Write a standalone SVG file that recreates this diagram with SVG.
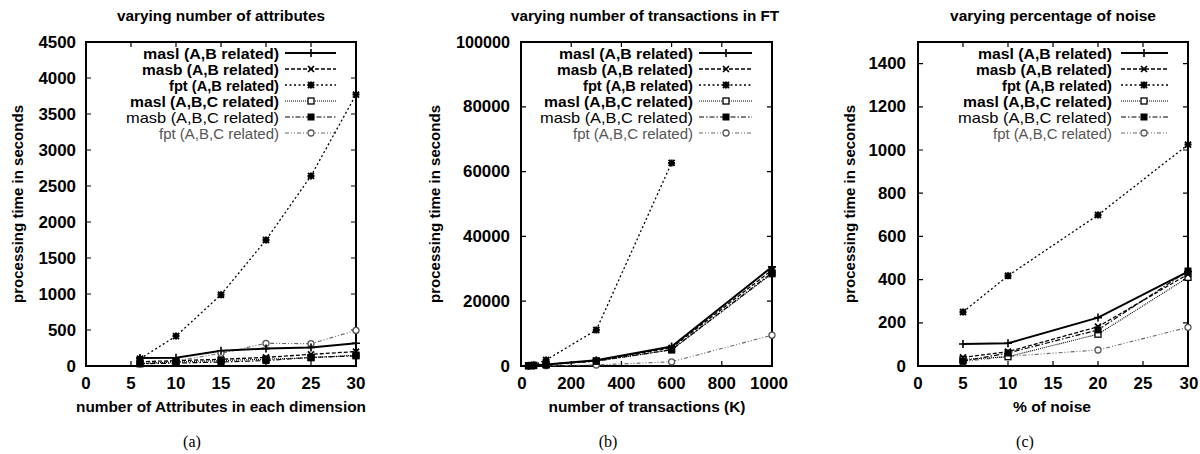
<svg xmlns="http://www.w3.org/2000/svg" xmlns:xlink="http://www.w3.org/1999/xlink" width="1200" height="454" viewBox="0 0 1200 454">
<style>
text{font-family:"Liberation Sans",Arial,sans-serif;fill:#000}
.b{font-weight:bold;font-size:15px}
.tk{font-weight:bold;font-size:16px}
.r{font-size:15px}
.g{font-size:14px;fill:#555}
.cap{font-family:"Liberation Serif","Times New Roman",serif;font-size:16px}
.box{fill:none;stroke:#000;stroke-width:2}
.tic{fill:none;stroke:#000;stroke-width:1.2}
.l1{fill:none;stroke:#000;stroke-width:2}
.l2{fill:none;stroke:#000;stroke-width:1.3;stroke-dasharray:4 2}
.l3{fill:none;stroke:#000;stroke-width:1.3;stroke-dasharray:2 2.5}
.l4{fill:none;stroke:#000;stroke-width:1.1;stroke-dasharray:1 1}
.l5{fill:none;stroke:#000;stroke-width:1.2;stroke-dasharray:5 2 1.5 2}
.l6{fill:none;stroke:#666;stroke-width:1.1;stroke-dasharray:4 2 1 2 1 2}
</style>
<defs>
<path id="m1" d="M-4,0H4M0,-4V4" fill="none" stroke="#000" stroke-width="1.6"/>
<path id="m2" d="M-3,-3L3,3M-3,3L3,-3" fill="none" stroke="#000" stroke-width="1.7"/>
<path id="m3" d="M-3.5,0H3.5M0,-3.5V3.5M-3,-3L3,3M-3,3L3,-3" fill="none" stroke="#000" stroke-width="2"/>
<rect id="m4" x="-3" y="-3" width="6" height="6" fill="#fff" stroke="#000" stroke-width="1.3"/>
<rect id="m5" x="-3.5" y="-3.5" width="7" height="7" fill="#000"/>
<circle id="m6" r="3" fill="#fff" stroke="#555" stroke-width="1.3"/>
</defs>
<rect width="1200" height="454" fill="#fff"/>

<!-- ================= Panel (a) ================= -->
<g id="panel-a">
<text class="b" x="221" y="21" text-anchor="middle" textLength="208" lengthAdjust="spacingAndGlyphs">varying number of attributes</text>
<text class="b" transform="translate(22.5,204) rotate(-90)" text-anchor="middle" textLength="198" lengthAdjust="spacingAndGlyphs">processing time in seconds</text>
<text class="b" x="221" y="412" text-anchor="middle" textLength="290" lengthAdjust="spacingAndGlyphs">number of Attributes in each dimension</text>
<text class="cap" x="192" y="447" text-anchor="middle">(a)</text>
<rect class="box" x="86" y="42" width="270" height="324"/>
<path class="tic" d="M131,366v-5M176,366v-5M221,366v-5M266,366v-5M311,366v-5M131,42v5M176,42v5M221,42v5M266,42v5M311,42v5M86,330h5M86,294h5M86,258h5M86,222h5M86,186h5M86,150h5M86,114h5M86,78h5M356,330h-5M356,294h-5M356,258h-5M356,222h-5M356,186h-5M356,150h-5M356,114h-5M356,78h-5"/>
<g text-anchor="end">
<text class="tk" x="76" y="371.5" textLength="9.4" lengthAdjust="spacingAndGlyphs">0</text>
<text class="tk" x="76" y="335.5" textLength="28" lengthAdjust="spacingAndGlyphs">500</text>
<text class="tk" x="76" y="299.5" textLength="37.6" lengthAdjust="spacingAndGlyphs">1000</text>
<text class="tk" x="76" y="263.5" textLength="37.6" lengthAdjust="spacingAndGlyphs">1500</text>
<text class="tk" x="76" y="227.5" textLength="37.6" lengthAdjust="spacingAndGlyphs">2000</text>
<text class="tk" x="76" y="191.5" textLength="37.6" lengthAdjust="spacingAndGlyphs">2500</text>
<text class="tk" x="76" y="155.5" textLength="37.6" lengthAdjust="spacingAndGlyphs">3000</text>
<text class="tk" x="76" y="119.5" textLength="37.6" lengthAdjust="spacingAndGlyphs">3500</text>
<text class="tk" x="76" y="83.5" textLength="37.6" lengthAdjust="spacingAndGlyphs">4000</text>
<text class="tk" x="76" y="47.5" textLength="37.6" lengthAdjust="spacingAndGlyphs">4500</text>
</g>
<g text-anchor="middle">
<text class="tk" x="86" y="389" textLength="9.4" lengthAdjust="spacingAndGlyphs">0</text>
<text class="tk" x="131" y="389" textLength="9.4" lengthAdjust="spacingAndGlyphs">5</text>
<text class="tk" x="176" y="389" textLength="18.8" lengthAdjust="spacingAndGlyphs">10</text>
<text class="tk" x="221" y="389" textLength="18.8" lengthAdjust="spacingAndGlyphs">15</text>
<text class="tk" x="266" y="389" textLength="18.8" lengthAdjust="spacingAndGlyphs">20</text>
<text class="tk" x="311" y="389" textLength="18.8" lengthAdjust="spacingAndGlyphs">25</text>
<text class="tk" x="356" y="389" textLength="18.8" lengthAdjust="spacingAndGlyphs">30</text>
</g>
<g id="legend-a" text-anchor="end">
<text class="b" x="279" y="58.5" textLength="136" lengthAdjust="spacingAndGlyphs">masl (A,B related)</text>
<text class="b" x="279" y="74.5" textLength="137" lengthAdjust="spacingAndGlyphs">masb (A,B related)</text>
<text class="b" x="279" y="90.5" textLength="110" lengthAdjust="spacingAndGlyphs">fpt (A,B related)</text>
<text class="b" x="279" y="106.5" textLength="149" lengthAdjust="spacingAndGlyphs">masl (A,B,C related)</text>
<text class="r" x="279" y="122.5" textLength="153" lengthAdjust="spacingAndGlyphs">masb (A,B,C related)</text>
<text class="g" x="279" y="138.5" textLength="120" lengthAdjust="spacingAndGlyphs">fpt (A,B,C related)</text>
<path class="l1" d="M285,53H336"/><use href="#m1" x="311" y="53"/>
<path class="l2" d="M285,69H336"/><use href="#m2" x="311" y="69"/>
<path class="l3" d="M285,85H336"/><use href="#m3" x="311" y="85"/>
<path class="l4" d="M285,101H336"/><use href="#m4" x="311" y="101"/>
<path class="l5" d="M285,117H336"/><use href="#m5" x="311" y="117"/>
<path class="l6" d="M285,133H336"/><use href="#m6" x="311" y="133"/>
</g>
</g>

<!-- ================= Panel (b) ================= -->
<g id="panel-b">
<text class="b" x="645" y="21" text-anchor="middle" textLength="268" lengthAdjust="spacingAndGlyphs">varying number of transactions in FT</text>
<text class="b" transform="translate(440,204) rotate(-90)" text-anchor="middle" textLength="198" lengthAdjust="spacingAndGlyphs">processing time in seconds</text>
<text class="b" x="647" y="412" text-anchor="middle" textLength="197" lengthAdjust="spacingAndGlyphs">number of transactions (K)</text>
<text class="cap" x="608" y="447" text-anchor="middle">(b)</text>
<rect class="box" x="521" y="42" width="251" height="324"/>
<path class="tic" d="M571.2,366v-5M621.4,366v-5M671.6,366v-5M721.8,366v-5M571.2,42v5M621.4,42v5M671.6,42v5M721.8,42v5M521,301.2h5M521,236.4h5M521,171.6h5M521,106.8h5M772,301.2h-5M772,236.4h-5M772,171.6h-5M772,106.8h-5"/>
<g text-anchor="end">
<text class="tk" x="510" y="371.5" textLength="9.4" lengthAdjust="spacingAndGlyphs">0</text>
<text class="tk" x="510" y="306.7" textLength="47" lengthAdjust="spacingAndGlyphs">20000</text>
<text class="tk" x="510" y="241.9" textLength="47" lengthAdjust="spacingAndGlyphs">40000</text>
<text class="tk" x="510" y="177.1" textLength="47" lengthAdjust="spacingAndGlyphs">60000</text>
<text class="tk" x="510" y="112.3" textLength="47" lengthAdjust="spacingAndGlyphs">80000</text>
<text class="tk" x="510" y="47.5" textLength="54" lengthAdjust="spacingAndGlyphs">100000</text>
</g>
<g text-anchor="middle">
<text class="tk" x="522" y="389" textLength="9.4" lengthAdjust="spacingAndGlyphs">0</text>
<text class="tk" x="571.2" y="389" textLength="28" lengthAdjust="spacingAndGlyphs">200</text>
<text class="tk" x="621.4" y="389" textLength="28" lengthAdjust="spacingAndGlyphs">400</text>
<text class="tk" x="671.6" y="389" textLength="28" lengthAdjust="spacingAndGlyphs">600</text>
<text class="tk" x="721.8" y="389" textLength="28" lengthAdjust="spacingAndGlyphs">800</text>
<text class="tk" x="769" y="389" textLength="38" lengthAdjust="spacingAndGlyphs">1000</text>
</g>
<g id="legend-b" text-anchor="end">
<text class="b" x="693" y="58.5" textLength="134" lengthAdjust="spacingAndGlyphs">masl (A,B related)</text>
<text class="b" x="693" y="74.5" textLength="136" lengthAdjust="spacingAndGlyphs">masb (A,B related)</text>
<text class="b" x="693" y="90.5" textLength="110" lengthAdjust="spacingAndGlyphs">fpt (A,B related)</text>
<text class="b" x="693" y="106.5" textLength="149" lengthAdjust="spacingAndGlyphs">masl (A,B,C related)</text>
<text class="r" x="693" y="122.5" textLength="153" lengthAdjust="spacingAndGlyphs">masb (A,B,C related)</text>
<text class="g" x="693" y="138.5" textLength="120" lengthAdjust="spacingAndGlyphs">fpt (A,B,C related)</text>
<path class="l1" d="M699,53H752"/><use href="#m1" x="726" y="53"/>
<path class="l2" d="M699,69H752"/><use href="#m2" x="726" y="69"/>
<path class="l3" d="M699,85H752"/><use href="#m3" x="726" y="85"/>
<path class="l4" d="M699,101H752"/><use href="#m4" x="726" y="101"/>
<path class="l5" d="M699,117H752"/><use href="#m5" x="726" y="117"/>
<path class="l6" d="M699,133H752"/><use href="#m6" x="726" y="133"/>
</g>
</g>

<!-- ================= Panel (c) ================= -->
<g id="panel-c">
<text class="b" x="1053" y="21" text-anchor="middle" textLength="206" lengthAdjust="spacingAndGlyphs">varying percentage of noise</text>
<text class="b" transform="translate(855,204) rotate(-90)" text-anchor="middle" textLength="198" lengthAdjust="spacingAndGlyphs">processing time in seconds</text>
<text class="b" x="1052" y="412" text-anchor="middle" textLength="78" lengthAdjust="spacingAndGlyphs">% of noise</text>
<text class="cap" x="1025" y="447" text-anchor="middle">(c)</text>
<rect class="box" x="918" y="42" width="270" height="324"/>
<path class="tic" d="M963,366v-5M1008,366v-5M1053,366v-5M1098,366v-5M1143,366v-5M963,42v5M1008,42v5M1053,42v5M1098,42v5M1143,42v5M918,322.8h5M918,279.6h5M918,236.4h5M918,193.2h5M918,150h5M918,106.8h5M918,63.6h5M1188,322.8h-5M1188,279.6h-5M1188,236.4h-5M1188,193.2h-5M1188,150h-5M1188,106.8h-5M1188,63.6h-5"/>
<g text-anchor="end">
<text class="tk" x="906" y="371.5" textLength="9.4" lengthAdjust="spacingAndGlyphs">0</text>
<text class="tk" x="906" y="328.3" textLength="28" lengthAdjust="spacingAndGlyphs">200</text>
<text class="tk" x="906" y="285.1" textLength="28" lengthAdjust="spacingAndGlyphs">400</text>
<text class="tk" x="906" y="241.9" textLength="28" lengthAdjust="spacingAndGlyphs">600</text>
<text class="tk" x="906" y="198.7" textLength="28" lengthAdjust="spacingAndGlyphs">800</text>
<text class="tk" x="906" y="155.5" textLength="37.6" lengthAdjust="spacingAndGlyphs">1000</text>
<text class="tk" x="906" y="112.3" textLength="37.6" lengthAdjust="spacingAndGlyphs">1200</text>
<text class="tk" x="906" y="69.1" textLength="37.6" lengthAdjust="spacingAndGlyphs">1400</text>
</g>
<g text-anchor="middle">
<text class="tk" x="918" y="389" textLength="9.4" lengthAdjust="spacingAndGlyphs">0</text>
<text class="tk" x="963" y="389" textLength="9.4" lengthAdjust="spacingAndGlyphs">5</text>
<text class="tk" x="1008" y="389" textLength="18.8" lengthAdjust="spacingAndGlyphs">10</text>
<text class="tk" x="1053" y="389" textLength="18.8" lengthAdjust="spacingAndGlyphs">15</text>
<text class="tk" x="1098" y="389" textLength="18.8" lengthAdjust="spacingAndGlyphs">20</text>
<text class="tk" x="1143" y="389" textLength="18.8" lengthAdjust="spacingAndGlyphs">25</text>
<text class="tk" x="1189" y="389" textLength="18.8" lengthAdjust="spacingAndGlyphs">30</text>
</g>
<g id="legend-c" text-anchor="end">
<text class="b" x="1112" y="58.5" textLength="134" lengthAdjust="spacingAndGlyphs">masl (A,B related)</text>
<text class="b" x="1112" y="74.5" textLength="136" lengthAdjust="spacingAndGlyphs">masb (A,B related)</text>
<text class="b" x="1112" y="90.5" textLength="110" lengthAdjust="spacingAndGlyphs">fpt (A,B related)</text>
<text class="b" x="1112" y="106.5" textLength="149" lengthAdjust="spacingAndGlyphs">masl (A,B,C related)</text>
<text class="r" x="1112" y="122.5" textLength="154" lengthAdjust="spacingAndGlyphs">masb (A,B,C related)</text>
<text class="g" x="1112" y="138.5" textLength="119" lengthAdjust="spacingAndGlyphs">fpt (A,B,C related)</text>
<path class="l1" d="M1121,53H1168"/><use href="#m1" x="1144" y="53"/>
<path class="l2" d="M1121,69H1168"/><use href="#m2" x="1144" y="69"/>
<path class="l3" d="M1121,85H1168"/><use href="#m3" x="1144" y="85"/>
<path class="l4" d="M1121,101H1168"/><use href="#m4" x="1144" y="101"/>
<path class="l5" d="M1121,117H1168"/><use href="#m5" x="1144" y="117"/>
<path class="l6" d="M1121,133H1168"/><use href="#m6" x="1144" y="133"/>
</g>
</g>

<!-- ================= Data series (connectors) ================= -->
<g id="connectors">
<g id="series-a">
<polyline class="l6" points="140,363.8 176,361 221,353.3 266,343.3 311,343.7 356,330.4"/>
<polyline class="l4" points="140,363.5 176,362 221,360.6 266,359.2 311,357.7 356,355.2"/>
<polyline class="l5" points="140,363.8 176,363.1 221,362 266,360.6 311,357.4 356,355.9"/>
<polyline class="l2" points="140,361.7 176,360.7 221,359.3 266,357.4 311,354.3 356,351.6"/>
<polyline class="l3" points="140,358.8 176,336.1 221,294.7 266,240 311,175.9 356,94.6"/>
<polyline class="l1" points="140,358.1 176,357.7 221,350.7 266,348.6 311,347.4 356,343.3"/>
<use href="#m6" x="140" y="363.8"/><use href="#m6" x="176" y="361"/><use href="#m6" x="221" y="353.3"/><use href="#m6" x="266" y="343.3"/><use href="#m6" x="311" y="343.7"/><use href="#m6" x="356" y="330.4"/>
<use href="#m4" x="140" y="363.5"/><use href="#m4" x="176" y="362"/><use href="#m4" x="221" y="360.6"/><use href="#m4" x="266" y="359.2"/><use href="#m4" x="311" y="357.7"/><use href="#m4" x="356" y="355.2"/>
<use href="#m5" x="140" y="363.8"/><use href="#m5" x="176" y="363.1"/><use href="#m5" x="221" y="362"/><use href="#m5" x="266" y="360.6"/><use href="#m5" x="311" y="357.4"/><use href="#m5" x="356" y="355.9"/>
<use href="#m2" x="140" y="361.7"/><use href="#m2" x="176" y="360.7"/><use href="#m2" x="221" y="359.3"/><use href="#m2" x="266" y="357.4"/><use href="#m2" x="311" y="354.3"/><use href="#m2" x="356" y="351.6"/>
<use href="#m3" x="140" y="358.8"/><use href="#m3" x="176" y="336.1"/><use href="#m3" x="221" y="294.7"/><use href="#m3" x="266" y="240"/><use href="#m3" x="311" y="175.9"/><use href="#m3" x="356" y="94.6"/>
<use href="#m1" x="140" y="358.1"/><use href="#m1" x="176" y="357.7"/><use href="#m1" x="221" y="350.7"/><use href="#m1" x="266" y="348.6"/><use href="#m1" x="311" y="347.4"/><use href="#m1" x="356" y="343.3"/>
</g>
<g id="series-b">
<polyline class="l6" points="528.5,365.8 533.6,365.8 546.1,365.7 596.3,365 671.6,361.8 772,335.2"/>
<polyline class="l4" points="528.5,365.7 533.6,365.5 546.1,364.7 596.3,361.1 671.6,349.8 772,273.7"/>
<polyline class="l5" points="528.5,365.7 533.6,365.5 546.1,364.7 596.3,361.1 671.6,349.8 772,272.7"/>
<polyline class="l2" points="528.5,365.7 533.6,365.4 546.1,364.5 596.3,360.5 671.6,347.9 772,270.1"/>
<polyline class="l3" points="528.5,365.7 533.6,365 546.1,360 596.3,330 671.6,162.9"/>
<polyline class="l1" points="528.5,365.7 533.6,365.4 546.1,364.4 596.3,360.2 671.6,346.6 772,266.9"/>
<use href="#m6" x="528.5" y="365.8"/><use href="#m6" x="533.6" y="365.8"/><use href="#m6" x="546.1" y="365.7"/><use href="#m6" x="596.3" y="365"/><use href="#m6" x="671.6" y="361.8"/><use href="#m6" x="772" y="335.2"/>
<use href="#m4" x="528.5" y="365.7"/><use href="#m4" x="533.6" y="365.5"/><use href="#m4" x="546.1" y="364.7"/><use href="#m4" x="596.3" y="361.1"/><use href="#m4" x="671.6" y="349.8"/><use href="#m4" x="772" y="273.7"/>
<use href="#m5" x="528.5" y="365.7"/><use href="#m5" x="533.6" y="365.5"/><use href="#m5" x="546.1" y="364.7"/><use href="#m5" x="596.3" y="361.1"/><use href="#m5" x="671.6" y="349.8"/><use href="#m5" x="772" y="272.7"/>
<use href="#m2" x="528.5" y="365.7"/><use href="#m2" x="533.6" y="365.4"/><use href="#m2" x="546.1" y="364.5"/><use href="#m2" x="596.3" y="360.5"/><use href="#m2" x="671.6" y="347.9"/><use href="#m2" x="772" y="270.1"/>
<use href="#m3" x="528.5" y="365.7"/><use href="#m3" x="533.6" y="365"/><use href="#m3" x="546.1" y="360"/><use href="#m3" x="596.3" y="330"/><use href="#m3" x="671.6" y="162.9"/>
<use href="#m1" x="528.5" y="365.7"/><use href="#m1" x="533.6" y="365.4"/><use href="#m1" x="546.1" y="364.4"/><use href="#m1" x="596.3" y="360.2"/><use href="#m1" x="671.6" y="346.6"/><use href="#m1" x="772" y="266.9"/>
</g>
<g id="series-c">
<polyline class="l6" points="963,361.7 1008,356.3 1098,350 1188,327.3"/>
<polyline class="l4" points="963,359.5 1008,356.7 1098,334.2 1188,277.4"/>
<polyline class="l5" points="963,361.2 1008,353 1098,329.9 1188,271"/>
<polyline class="l2" points="963,357.4 1008,351.7 1098,326.7 1188,274.2"/>
<polyline class="l3" points="963,312 1008,275.7 1098,215 1188,144.6"/>
<polyline class="l1" points="963,344 1008,343.3 1098,317.6 1188,271.6"/>
<use href="#m6" x="963" y="361.7"/><use href="#m6" x="1008" y="356.3"/><use href="#m6" x="1098" y="350"/><use href="#m6" x="1188" y="327.3"/>
<use href="#m4" x="963" y="359.5"/><use href="#m4" x="1008" y="356.7"/><use href="#m4" x="1098" y="334.2"/><use href="#m4" x="1188" y="277.4"/>
<use href="#m5" x="963" y="361.2"/><use href="#m5" x="1008" y="353"/><use href="#m5" x="1098" y="329.9"/><use href="#m5" x="1188" y="271"/>
<use href="#m2" x="963" y="357.4"/><use href="#m2" x="1008" y="351.7"/><use href="#m2" x="1098" y="326.7"/><use href="#m2" x="1188" y="274.2"/>
<use href="#m3" x="963" y="312"/><use href="#m3" x="1008" y="275.7"/><use href="#m3" x="1098" y="215"/><use href="#m3" x="1188" y="144.6"/>
<use href="#m1" x="963" y="344"/><use href="#m1" x="1008" y="343.3"/><use href="#m1" x="1098" y="317.6"/><use href="#m1" x="1188" y="271.6"/>
</g>
</g>
</svg>
